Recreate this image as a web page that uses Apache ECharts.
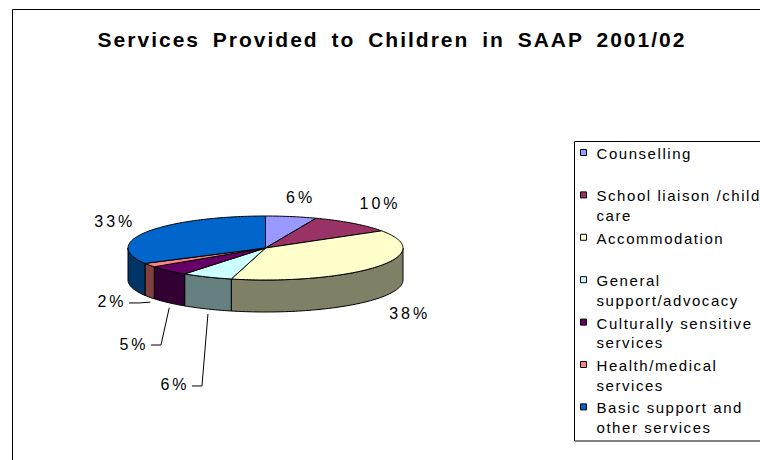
<!DOCTYPE html>
<html>
<head>
<meta charset="utf-8">
<title>Services Provided to Children in SAAP 2001/02</title>
<script src="https://cdn.jsdelivr.net/npm/echarts@6.0.0/dist/echarts.min.js"></script>
<style>
  html, body { margin: 0; padding: 0; background: #fff; }
  #chart { width: 760px; height: 460px; }
  /* wide, spaced-out lettering of the original office chart */
  #chart text { letter-spacing: 1.55px; }
  #chart text[style*="21px"] { letter-spacing: 2px; word-spacing: 5px; }
  #chart text[style*="16px"] { letter-spacing: 3px; }
</style>
</head>
<body>
<div id="chart"></div>
<script>
// ---- data ----
const titleText = 'Services Provided to Children in SAAP 2001/02';
const categories = [
  'Counselling',
  'School liaison /child\ncare',
  'Accommodation',
  'General\nsupport/advocacy',
  'Culturally sensitive\nservices',
  'Health/medical\nservices',
  'Basic support and\nother services'
];
const shares = [6, 10, 38, 6, 5, 2, 33];   // per cent of services

// ---- styling ----
const topColors  = ['#9999FF', '#993366', '#FFFFCC', '#CCFFFF', '#660066', '#FF8080', '#0066CC'];
const sideColors = ['#4C4C80', '#4C1933', '#808066', '#668080', '#330033', '#804040', '#003366'];
const FONT = '"Liberation Sans", Arial, Helvetica, sans-serif';

// tilted pie: centre, radii of the top ellipse and thickness of the disc
const pie = { cx: 265.5, cy: 248, rx: 137.5, ry: 32, depth: 32 };
// label centre relative to the outer rim point at each slice's mid angle
const labelOffsets = [[9.4, -19.3], [26.9, -19.4], [33, 14.2], [-32, 76], [-34.3, 41.4], [-37.4, 4.8], [-32.4, -10.7]];
const hasLeader = [false, false, false, true, true, true, false];

const total = shares.reduce((a, b) => a + b, 0);

function rimPoint(t, dy) {
  return [pie.cx + pie.rx * Math.sin(t), pie.cy - pie.ry * Math.cos(t) + (dy || 0)];
}
function arcPoints(s, e, dy) {
  const n = Math.max(2, Math.ceil((e - s) / (Math.PI / 120)));
  const pts = [];
  for (let j = 0; j <= n; j++) pts.push(rimPoint(s + (e - s) * j / n, dy));
  return pts;
}

function renderSlice(params, api) {
  const i = params.dataIndex;
  const v = api.value(0);
  let before = 0;
  for (let k = 0; k < i; k++) before += shares[k];
  // angles measured clockwise from 12 o'clock
  const a0 = before / total * 2 * Math.PI;
  const a1 = (before + v) / total * 2 * Math.PI;
  const children = [];

  // visible outer wall (front half of the disc)
  const ws = Math.max(a0, Math.PI / 2), we = Math.min(a1, 3 * Math.PI / 2);
  if (we > ws) {
    const upper = arcPoints(ws, we, 0);
    const lower = arcPoints(ws, we, pie.depth).reverse();
    children.push({
      type: 'polygon',
      shape: { points: upper.concat(lower) },
      style: { fill: sideColors[i], stroke: '#000', lineWidth: 1, lineJoin: 'round' }
    });
  }
  // top face
  children.push({
    type: 'polygon',
    shape: { points: [[pie.cx, pie.cy]].concat(arcPoints(a0, a1, 0)) },
    style: { fill: topColors[i], stroke: '#000', lineWidth: 1, lineJoin: 'round' }
  });

  // percentage label
  const mid = (a0 + a1) / 2;
  const anchor = rimPoint(mid, Math.cos(mid) < 0 ? pie.depth : 0);
  const lx = anchor[0] + labelOffsets[i][0];
  const ly = anchor[1] + labelOffsets[i][1];
  children.push({
    type: 'text',
    x: lx, y: ly,
    style: {
      text: v + '%', fill: '#000', font: '16px ' + FONT,
      align: 'center', verticalAlign: 'middle'
    }
  });
  if (hasLeader[i]) {
    const sx = lx + 17, sy = ly + 1;
    children.push({
      type: 'polyline',
      shape: { points: [[sx, sy], [sx + 10, sy], [anchor[0] + 1, anchor[1] + 5]] },
      style: { stroke: '#000', lineWidth: 1, fill: 'none' }
    });
  }
  return { type: 'group', children };
}

// ---- legend drawn as a boxed list ----
const legendBox = { x: 574.5, y: 141.5, width: 300, height: 299.5 };
const legendEntryPitch = 42.4;
const legendGraphics = [{
  type: 'rect',
  shape: legendBox,
  style: { fill: '#fff', stroke: '#000', lineWidth: 1 }
}];
categories.forEach((name, i) => {
  const top = 149.5 + i * legendEntryPitch;
  legendGraphics.push({
    type: 'rect',
    shape: { x: 580.5, y: top, width: 6, height: 6 },
    style: { fill: topColors[i], stroke: '#000', lineWidth: 1 }
  });
  legendGraphics.push({
    type: 'text',
    x: 596.5, y: top - 5.8,
    style: {
      text: name, fill: '#000', font: '15px ' + FONT,
      lineHeight: 19.6, align: 'left', verticalAlign: 'top'
    }
  });
});

const chart = echarts.init(document.getElementById('chart'), null, { renderer: 'svg' });
chart.setOption({
  animation: false,
  backgroundColor: '#fff',
  graphic: [
    {
      type: 'rect',
      shape: { x: 12.5, y: 9.5, width: 800, height: 500 },
      style: { fill: 'none', stroke: '#000', lineWidth: 1 }
    },
    {
      type: 'text',
      x: 392, y: 39,
      style: {
        text: titleText, fill: '#000', font: 'bold 21px ' + FONT,
        align: 'center', verticalAlign: 'middle'
      }
    }
  ].concat(legendGraphics),
  series: [{
    type: 'custom',
    coordinateSystem: 'none',
    renderItem: renderSlice,
    data: shares
  }]
});
</script>
</body>
</html>
